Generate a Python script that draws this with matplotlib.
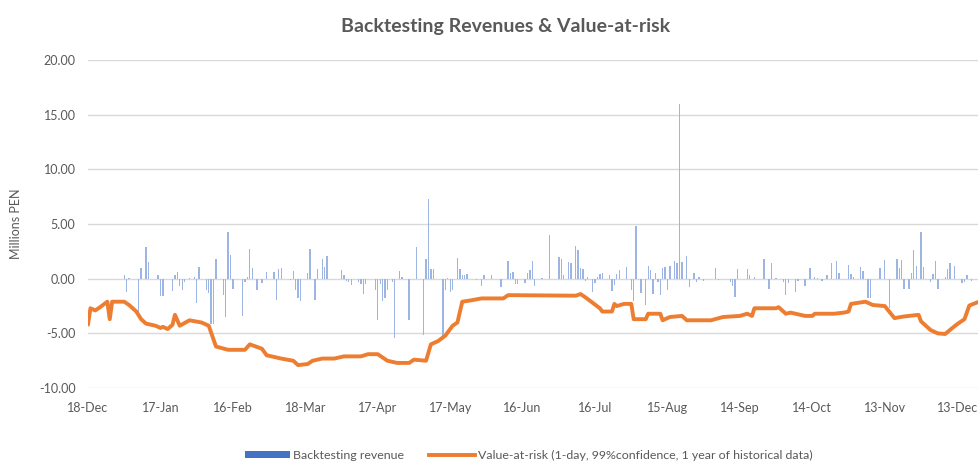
import datetime as dt

import matplotlib
matplotlib.use("Agg")
import matplotlib.pyplot as plt
import matplotlib.dates as mdates
from matplotlib.lines import Line2D
from matplotlib.patches import Patch

START = dt.date(2018, 12, 18)

# Backtesting revenue (millions PEN): (day offset from START, value)
revenue_points = [
    (15, 0.3), (16, -1.2), (17, 0.1), (21, -3.2), (22, 1.0), (24, 2.9), (25, 1.5),
    (29, 0.3), (30, -1.6), (31, -1.6), (35, -1.1), (36, 0.3), (37, 0.6), (38, -0.7),
    (39, -1.0), (40, -0.3), (42, 0.1), (44, 0.2), (45, -2.2), (46, 1.1), (49, -1.0),
    (50, -1.3), (51, -4.1), (52, -4.1), (53, 1.8), (56, -1.5), (57, -3.5), (58, 4.3),
    (59, 2.2), (60, -0.9), (64, -3.4), (65, -0.3), (66, 0.2), (67, 2.7), (68, 1.0),
    (70, -1.0), (72, -0.4), (74, 0.6), (77, 0.6), (78, -1.9), (79, 0.9), (80, 1.0),
    (84, -0.1), (85, 0.7), (86, -1.0), (87, -1.8), (88, -2.0),
    (91, 0.5), (92, 2.7), (94, -1.9), (95, 0.9), (97, 1.8), (98, 1.1), (99, 2.1),
    (105, 0.8), (106, 0.3), (107, -0.2), (108, -0.3), (109, -0.6), (112, -0.3),
    (113, -0.5), (114, -1.4), (115, -0.5), (119, -1.0), (120, -3.8), (121, -0.5),
    (122, -2.0), (123, -1.8), (124, -1.0), (126, -0.3), (127, -5.4), (129, 0.7),
    (130, 0.2), (133, -3.8), (136, 2.9), (139, -5.1), (140, 1.8), (141, 7.3),
    (142, 0.9), (143, 0.9), (147, -5.5), (148, -1.0), (149, 0.1), (150, -1.2),
    (151, -1.0), (153, 1.9), (154, 0.9), (155, 0.3), (156, 0.3), (157, 0.4),
    (161, -0.1), (163, -0.7), (164, 0.3), (167, 0.3), (171, -0.8), (174, 1.6),
    (175, 0.5), (176, 0.6), (177, -0.5), (178, -0.5), (181, -0.4),
    (182, 0.5), (183, 0.8), (184, 1.6), (185, -0.7), (188, 0.1), (191, 4.0),
    (195, 2.0), (196, 1.8), (197, 0.3), (199, 1.5), (200, 1.4), (202, 3.0),
    (203, 2.6), (204, 1.0), (205, 0.9), (206, -0.2), (207, 0.2), (209, -1.2),
    (210, -0.4), (211, 0.2), (212, 0.4), (213, 0.5), (216, 0.3), (217, -1.1),
    (218, -0.6), (219, 0.4), (220, 0.8), (223, 1.1), (225, -1.0), (226, -2.0),
    (227, 4.8), (229, -1.3), (231, -2.4), (232, 1.2), (233, 0.8), (234, -1.4),
    (235, 0.5), (236, -0.3), (237, -1.5), (238, 1.0), (239, 1.1), (240, -1.0),
    (241, 1.2), (243, 1.6), (244, 1.4), (245, 16.0), (246, 1.5), (248, 2.1),
    (249, -0.8), (251, 0.5), (252, -0.3), (253, 0.2), (255, -0.2), (260, 1.0),
    (261, -0.1), (266, -0.3), (267, -0.7), (268, -1.7), (269, 0.9), (273, 0.9),
    (274, 0.3), (276, 0.2), (280, 1.8), (282, -0.9), (283, 1.4), (285, 0.1),
    (288, -0.3), (289, -1.5), (290, -0.4), (293, -1.2), (294, -0.2), (297, -0.7),
    (299, 1.0), (301, 0.2), (302, 0.1), (304, -0.2), (306, 0.3), (308, 1.4),
    (310, 1.6), (311, 0.5), (315, 1.3), (316, 0.4), (317, 0.2), (320, 1.1),
    (321, 0.7), (323, -1.8), (324, -1.8), (328, 1.0), (330, 1.7), (332, -2.7),
    (335, 1.8), (336, 1.0), (337, 1.7), (338, -0.9), (340, -0.9), (341, 0.5),
    (342, 2.6), (343, 1.2), (345, 4.3), (346, 1.1), (349, -0.3), (350, 0.4),
    (351, 1.6), (352, -0.9), (355, 0.2), (356, 0.9), (357, 1.4), (359, 1.2),
    (362, -0.4), (363, -0.3), (364, 0.3), (366, -0.2), (370, -0.2),
]

# Value-at-risk (millions PEN): (day offset from START, value) at the line's corners
var_points = [
    (0, -4.2), (1, -2.7), (3, -2.9), (5, -2.6), (8, -2.1), (9, -3.7), (10, -2.1),
    (15, -2.1), (17, -2.4), (20, -3.0), (22, -3.7), (24, -4.1), (28, -4.3), (30, -4.5),
    (31, -4.4), (33, -4.6), (35, -4.2), (36, -3.3), (38, -4.3), (42, -3.8), (47, -4.0),
    (50, -4.3), (53, -6.2), (58, -6.5), (65, -6.5), (67, -6.0), (72, -6.4), (74, -7.0),
    (80, -7.3), (85, -7.5), (87, -7.9), (91, -7.8), (93, -7.5), (97, -7.3), (102, -7.3),
    (106, -7.1), (113, -7.1), (116, -6.9), (120, -6.9), (124, -7.5), (128, -7.7),
    (133, -7.7), (135, -7.4), (140, -7.5), (142, -6.0), (145, -5.7), (148, -5.2),
    (151, -4.3), (153, -4.0), (155, -2.1), (158, -2.0), (163, -1.8), (172, -1.8),
    (174, -1.5), (202, -1.55), (204, -1.4), (206, -1.7), (212, -2.7), (213, -3.0),
    (217, -3.0), (218, -2.3), (219, -2.5), (222, -2.3), (225, -2.3), (226, -3.7),
    (231, -3.7), (232, -3.2), (237, -3.2), (238, -3.8), (241, -3.5), (246, -3.4),
    (248, -3.8), (258, -3.8), (263, -3.5), (270, -3.4), (273, -3.2), (275, -3.4),
    (276, -2.7), (285, -2.7), (286, -2.6), (289, -3.2), (291, -3.1), (297, -3.4),
    (300, -3.4), (301, -3.2), (309, -3.2), (313, -3.1), (315, -3.0), (316, -2.3),
    (322, -2.1), (325, -2.4), (330, -2.5), (334, -3.6), (338, -3.45), (344, -3.3),
    (345, -3.9), (349, -4.7), (352, -5.0), (355, -5.05), (358, -4.5), (360, -4.15),
    (363, -3.7), (365, -2.45), (369, -2.1), (371, -1.4),
]

rev_days = [d for d, _ in revenue_points]
rev_vals = [v for _, v in revenue_points]
var_days = [d for d, _ in var_points]
var_vals = [v for _, v in var_points]

Y_TICKS = [-10, -5, 0, 5, 10, 15, 20]
TICK_STEP = 30

BAR_COLOR = "#9DB5E3"
LEGEND_BAR = "#4472C4"
LINE_COLOR = "#ED7D31"
TEXT_COLOR = "#595959"
GRID_COLOR = "#D9D9D9"

plt.rcParams["font.family"] = ["Lato", "DejaVu Sans"]


def to_dates(offsets):
    return [START + dt.timedelta(days=int(d)) for d in offsets]


def main() -> None:
    fig = plt.figure(figsize=(9.79, 4.62), dpi=100)
    ax = fig.add_axes([0.0899, 0.160, 0.915, 0.710])

    ax.bar(to_dates(rev_days), rev_vals, width=0.55, color=BAR_COLOR, zorder=2)
    ax.plot(to_dates(var_days), var_vals, color=LINE_COLOR, linewidth=2.8,
            solid_joinstyle="round", solid_capstyle="round", zorder=3)

    ax.set_ylim(-10, 20)
    ax.set_yticks(Y_TICKS)
    ax.set_yticklabels([f"{v:.2f}" for v in Y_TICKS])
    ax.set_xlim(START, START + dt.timedelta(days=371))
    xticks = [START + dt.timedelta(days=TICK_STEP * i) for i in range(13)]
    ax.set_xticks(xticks)
    ax.xaxis.set_major_formatter(mdates.DateFormatter("%d-%b"))

    ax.grid(axis="y", color=GRID_COLOR, linewidth=1.0, zorder=0)
    ax.set_axisbelow(True)
    for side in ("top", "right", "left", "bottom"):
        ax.spines[side].set_visible(False)
    ax.tick_params(axis="both", length=0, labelsize=9, colors=TEXT_COLOR)
    ax.tick_params(axis="y", pad=9)
    ax.tick_params(axis="x", pad=10)
    ax.set_ylabel("Millions PEN", fontsize=9, color=TEXT_COLOR, labelpad=12)

    fig.suptitle("Backtesting Revenues & Value-at-risk", x=0.516, y=0.96,
                 fontsize=14, fontweight="bold", color=TEXT_COLOR)

    handles = [Patch(facecolor=LEGEND_BAR, edgecolor="none"),
               Line2D([0], [0], color=LINE_COLOR, linewidth=2.8)]
    labels = ["Backtesting revenue",
              "Value-at-risk (1-day, 99%confidence, 1 year of historical data)"]
    leg = fig.legend(handles, labels, loc="lower center", bbox_to_anchor=(0.540, -0.022),
                     ncol=2, frameon=False, fontsize=8.9, handlelength=3.7,
                     handleheight=0.55, columnspacing=2.0, handletextpad=0.25)
    for text in leg.get_texts():
        text.set_color(TEXT_COLOR)

    fig.savefig("out.png", dpi=100)
    plt.close(fig)


if __name__ == "__main__":
    main()
